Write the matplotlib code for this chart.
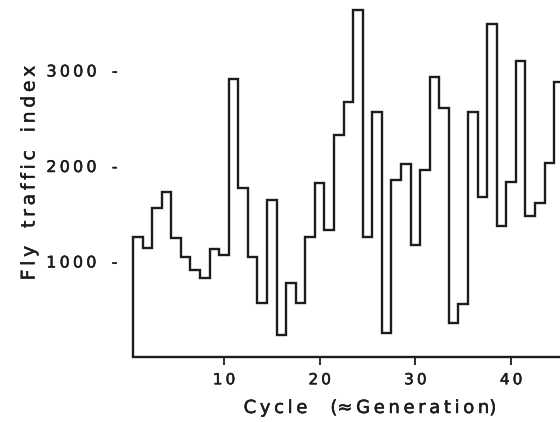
import numpy as np
import matplotlib.pyplot as plt
import matplotlib.patheffects as pe

# fly traffic index per cycle
cycles = np.arange(1, 46)
traffic = [1257, 1141, 1560, 1728, 1246, 1047, 911, 827, 1131, 1068,
           2911, 1770, 1047, 565, 1644, 230, 775, 565, 1257, 1822,
           1330, 2325, 2670, 3634, 1257, 2565, 251, 1853, 2021, 1173,
           1958, 2932, 2607, 356, 555, 2565, 1675, 3487, 1372, 1832,
           3099, 1476, 1613, 2031, 2880]
xticks = [10, 20, 30, 40]
yticks = [1000, 2000, 3000]

ink = "#1c1c1c"
heavy = [pe.withStroke(linewidth=0.35, foreground=ink)]


def spaced(s):
    # hand lettering is widely spaced
    return "\u2009".join(s)


fig = plt.figure(figsize=(5.6, 4.22), dpi=100)
ax = fig.add_axes([133/560, 65/422, 427/560, 357/422])

edges = np.append(cycles - 0.5, cycles[-1] + 0.5)
ax.stairs(traffic, edges, baseline=0, color=ink, linewidth=1.7, clip_on=False)

ax.set_xlim(0.5, 0.5 + 427/9.57)
ax.set_ylim(0, 357/0.0955)

for s in ["top", "right", "left"]:
    ax.spines[s].set_visible(False)
ax.spines["bottom"].set_color(ink)
ax.spines["bottom"].set_linewidth(1.7)

ax.set_xticks(xticks)
ax.set_xticklabels([spaced(str(t)) for t in xticks], fontsize=11, color=ink)
ax.tick_params(axis="x", direction="out", length=6, width=1.3, color=ink, pad=5)
ax.set_yticks(yticks)
ax.set_yticklabels([spaced(str(t)) + "   -" for t in yticks], fontsize=11.5,
                   color=ink)
ax.tick_params(axis="y", length=0, pad=11)
for lab in ax.get_xticklabels() + ax.get_yticklabels():
    lab.set_path_effects(heavy)

fig.text(370/560, 1 - 408/422, spaced("Cycle") + "    (" + spaced("\u2248Generation") + ")",
         ha="center", va="center", fontsize=13, color=ink, path_effects=heavy)
fig.text(29/560, 1 - 173/422, spaced("Fly") + "   " + spaced("traffic") + "   " + spaced("index"),
         ha="center", va="center", rotation=90, fontsize=13.5, color=ink,
         path_effects=heavy)

fig.savefig("out.png", dpi=100)
